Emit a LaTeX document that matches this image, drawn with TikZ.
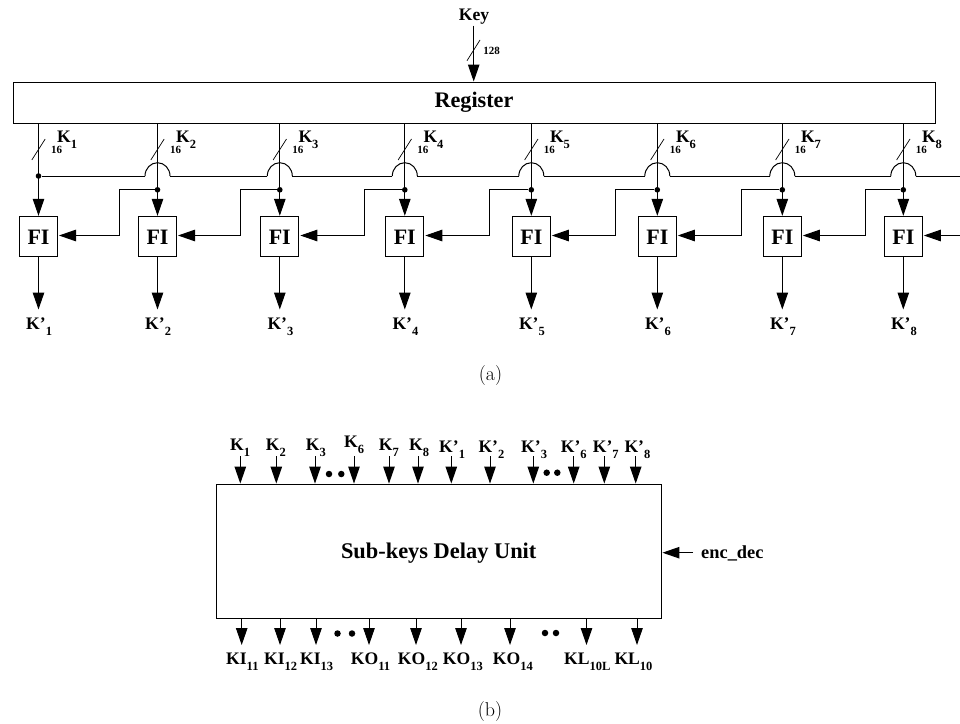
\documentclass[tikz,border=0pt]{standalone}
\usepackage{fontspec}
\usetikzlibrary{arrows.meta,calc}
\newfontfamily\tms{Liberation Serif}
\newcommand{\fs}[1]{\fontsize{#1}{#1}\selectfont}
\newcommand{\lb}[2]{{\tms\bfseries\fs{17.6}#1\raisebox{-6pt}{\fs{12.5}#2}}}
\tikzset{
  x=1pt,y=1pt,
  wire/.style={line width=1pt,black},
  arr/.style={wire,-{Triangle[width=11.5pt,length=17pt]}},
  fibox/.style={draw,line width=1pt,minimum width=38pt,minimum height=40pt,inner sep=0pt,font=\tms\bfseries\fs{22}},
  bigbox/.style={draw,line width=1pt,inner sep=0pt,font=\tms\bfseries\fs{22.2}},
  txt/.style={inner sep=0pt,anchor=base west},
  dotn/.style={circle,fill=black,inner sep=0pt,minimum size=5.6pt},
  bigdot/.style={circle,fill=black,inner sep=0pt,minimum size=6.5pt},
  capt/.style={inner sep=0pt,font=\fs{20}},
  wee/.style={inner sep=0pt,font=\tms\bfseries\fs{11}}
}
\begin{document}
\begin{tikzpicture}
\useasboundingbox (0,0) rectangle (960,-723);
% top
\node[txt,anchor=base,font=\tms\bfseries\fs{17.6}] (key) at (474,-20) {Key};
\node[bigbox,minimum width=922pt,minimum height=41pt] (reg) at (474,-102.5) {Register};
\coordinate (keyt) at (473.7,-25.7);
\draw[arr] (keyt) -- (keyt |- reg.north);
\coordinate (ks1) at (467,-60.7); \coordinate (ks2) at (480,-40);
\draw[line width=.7pt] (ks1) -- (ks2);
\node[wee] (w128) at (491.5,-51) {128};
\coordinate (busend) at (960,-176);
\coordinate (inend) at (960,-235.5);
\foreach \i/\x/\jx in {1/38.5/0,2/157.5/119.5,3/279.8/240.3,4/404.8/364,5/531.3/489.3,6/657.3/615.3,7/782.3/741.7,8/903.3/865}{
  \coordinate (r\i) at (\x,-123);
  \coordinate (b\i) at (\x,-176);
  \coordinate (j\i) at (\jx,-235.5);
  \node[fibox] (fi\i) at (\x,-236.8) {FI};
  \node[txt] (kl\i) at (\x+18.5,-142.7) {\lb{K}{\i}};
  \node[wee] (n\i) at (\x+18,-150) {16};
  \draw[line width=.7pt] (\x-6.7,-160) -- (\x+6.7,-139);
  \node[txt] (kp\i) at (\x-12.5,-329.3) {\lb{K’}{\i}};
  \draw[arr] (fi\i.south) -- (\x,-309.5);
  \draw[arr,shorten >=.5pt] (r\i) -- (fi\i.north);
}
\foreach \i in {2,...,8}{
  \path (r\i) ++(0,-66.8) node[dotn] (d\i) {};
  \draw[wire,line join=miter] ($(b\i)+(-12.5,0)$) arc[start angle=180,end angle=0,x radius=12.5,y radius=13.3];
}
\node[dotn] (d1) at (b1) {};
\draw[wire] (d1) -- ($(b2)+(-12.5,0)$);
\foreach \i/\j in {2/3,3/4,4/5,5/6,6/7,7/8}{
  \draw[wire] ($(b\i)+(12.5,0)$) -- ($(b\j)+(-12.5,0)$);
}
\draw[wire] ($(b8)+(12.5,0)$) -- (busend);
\foreach \i/\j in {1/2,2/3,3/4,4/5,5/6,6/7,7/8}{
  \draw[arr,shorten >=1pt] (d\j) -| (j\j) -- (j\j -| fi\i.east);
}
\draw[arr,shorten >=1pt] (inend) -- (inend -| fi8.east);
\node[capt] (capa) at (490.5,-376) {(a)};
% bottom
\node[bigbox,minimum width=445.5pt,minimum height=134.7pt] (unit) at (439.2,-551.4) {};
\node[inner sep=0pt,font=\tms\bfseries\fs{22.4}] (unitl) at (438.7,-553) {Sub-keys Delay Unit};
\foreach \n/\x/\t/\s/\lx/\by in {
  a/240.3/K/1/230/-450.7, b/276.3/K/2/265.7/-450.7, c/315/K/3/305.7/-450.7, d/354/K/6/344/-447.7,
  e/389/K/7/378.7/-450.7, f/418/K/8/409/-450.7,
  g/451.3/K’/1/439/-452, h/490/K’/2/478.3/-452,
  i/533.3/K’/3/521/-452, k/573.7/K’/6/560.7/-452, l/604.3/K’/7/592.7/-452, m/635.7/K’/8/624.3/-452}{
  \coordinate (t\n) at (\x,-456);
  \node[txt] (tl\n) at (\lx,\by) {\lb{\t}{\s}};
  \draw[arr] (t\n) -- (t\n |- unit.north);
}
\foreach \n/\x/\t/\s/\lx in {
  a/241.7/KI/11/226, b/280/KI/12/264, c/316/KI/13/300,
  d/369/KO/11/350.7, e/416/KO/12/397.7, f/461/KO/13/442.7,
  g/510/KO/14/492.7, h/586.5/KL/10L/564, i/637/KL/10/614.3}{
  \coordinate (u\n) at (\x,-645);
  \node[txt] (ul\n) at (\lx,-664) {\lb{\t}{\s}};
  \draw[arr] (u\n |- unit.south) -- (u\n);
}
\foreach \n/\x/\y in {p/329/474,q/341.3/474,r/546.7/472.7,s/557.3/472.7,t/337.5/633.5,u/352/633.5,v/545/633,w/556/633}{
  \node[bigdot] (dot\n) at (\x,-\y) {};
}
\coordinate (enc) at (693,-552.7);
\draw[arr] (enc) -- (enc -| unit.east);
\node[txt,font=\tms\bfseries\fs{18.4}] (encl) at (701,-558) {enc\_dec};
\node[capt] (capb) at (490,-711) {(b)};
\end{tikzpicture}
\end{document}
